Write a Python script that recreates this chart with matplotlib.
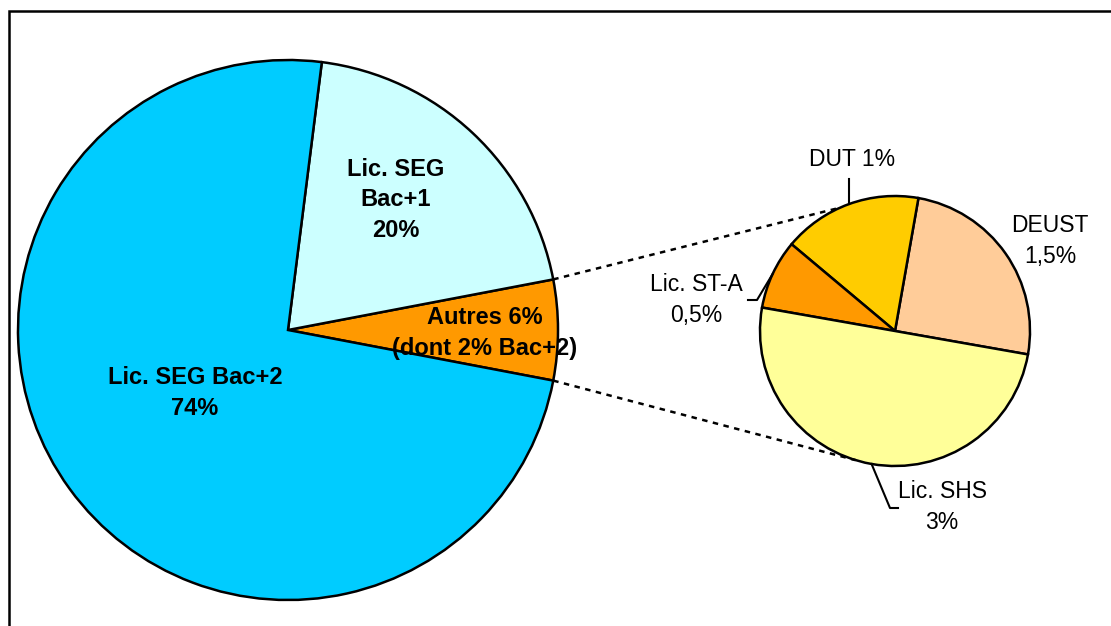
import numpy as np
import matplotlib
matplotlib.use("Agg")
import matplotlib.pyplot as plt

plt.rcParams["font.family"] = ["Liberation Sans", "DejaVu Sans"]

# main pie (percent of all)
main_labels = ["Autres 6%\n(dont 2% Bac+2)", "Lic. SEG\nBac+1\n20%", "Lic. SEG Bac+2\n74%"]
main_values = [6, 20, 74]
main_colors = ["#FF9900", "#CCFFFF", "#00CCFF"]

# breakdown of "Autres"
sub_labels = ["DEUST\n1,5%", "DUT 1%", "Lic. ST-A\n0,5%", "Lic. SHS\n3%"]
sub_values = [1.5, 1, 0.5, 3]
sub_colors = ["#FFCC99", "#FFCC00", "#FF9900", "#FFFF99"]

W, H = 1111, 626


def px(x, y):
    # pixel (top-left origin) -> data coords (y up)
    return x, H - y


fig = plt.figure(figsize=(W / 100, H / 100), dpi=100)
ax = fig.add_axes([0, 0, 1, 1])

c1, r1 = px(288, 330), 270
c2, r2 = px(895, 331), 135
wp = dict(edgecolor="black", linewidth=1.8)

start1 = -main_values[0] / sum(main_values) * 360 / 2
ax.pie(main_values, colors=main_colors, startangle=start1, center=c1,
       radius=r1, wedgeprops=wp, frame=True)
start2 = -10
ax.pie(sub_values, colors=sub_colors, startangle=start2, center=c2,
       radius=r2, wedgeprops=wp, frame=True)

ax.set_xlim(0, W)
ax.set_ylim(0, H)
ax.set_aspect("equal")
ax.axis("off")


def on_circle(c, r, ang):
    a = np.deg2rad(ang)
    return c[0] + r * np.cos(a), c[1] + r * np.sin(a)


# connector lines between the two pies
for a1, a2 in [(-start1, 114), (start1, 253)]:
    p1 = on_circle(c1, r1, a1)
    p2 = on_circle(c2, r2, a2)
    ax.plot([p1[0], p2[0]], [p1[1], p2[1]], color="black", lw=1.8,
            ls=(0, (2.2, 2.2)), zorder=3)

# labels on the main pie
bold = dict(fontsize=17, fontweight="bold", ha="center", va="center",
            linespacing=1.4, zorder=5)
ax.text(*px(485, 333), main_labels[0], **bold)
ax.text(*px(396, 200), main_labels[1], **bold)
ax.text(*px(195, 393), main_labels[2], **bold)

# labels on the second pie
reg = dict(fontsize=16.5, ha="center", va="center", linespacing=1.4, zorder=5)
ax.text(*px(1050, 241), sub_labels[0], **reg)
ax.text(*px(852, 160), sub_labels[1], **reg)
ax.text(*px(696, 300), sub_labels[2], **reg)
ax.text(*px(942, 507), sub_labels[3], **reg)

# leader lines from wedge middles
cum = np.cumsum([0] + sub_values)
mids = start2 + (cum[:-1] + cum[1:]) / 2 / sum(sub_values) * 360
leaders = {
    1: [px(851, 179)],
    2: [px(757, 300), px(748, 300)],
    3: [px(890, 508), px(898, 508)],
}
for i, pts in leaders.items():
    p0 = on_circle(c2, r2, mids[i])
    xs = [p0[0]] + [p[0] for p in pts]
    ys = [p0[1]] + [p[1] for p in pts]
    if i == 1:
        xs[1] = xs[0]
    ax.plot(xs, ys, color="black", lw=1.5, zorder=4)

# chart frame (left and top edges visible)
ax.plot([8.5, 8.5, W], [0, H - 10.5, H - 10.5], color="black", lw=1.8,
        solid_joinstyle="miter", zorder=6)

fig.savefig("out.png", dpi=100)
